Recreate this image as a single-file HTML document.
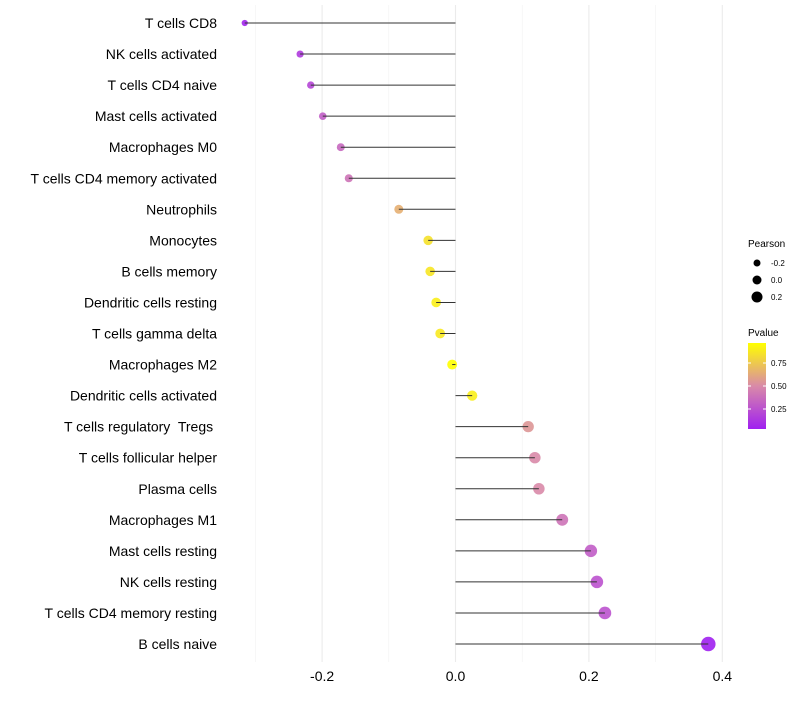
<!DOCTYPE html>
<html><head><meta charset="utf-8"><style>
body{margin:0;background:#fff;font-family:"Liberation Sans",sans-serif}
text{white-space:pre}
</style></head><body>
<svg id="chart" width="800" height="700" xmlns="http://www.w3.org/2000/svg">
<defs><linearGradient id="pg" x1="0" y1="1" x2="0" y2="0">
<stop offset="0" stop-color="#a020f0"/><stop offset="0.5" stop-color="#d98aa8"/><stop offset="1" stop-color="#ffff00"/>
</linearGradient></defs>
<g id="grid"></g><g id="marks"></g><g id="labels"></g>
<g font-size="10">
<text x="748" y="247" fill="#000">Pearson</text>
<circle cx="757" cy="263" r="3.5" fill="#000"/><text x="771" y="266" font-size="8">-0.2</text>
<circle cx="757" cy="280" r="4.5" fill="#000"/><text x="771" y="283" font-size="8">0.0</text>
<circle cx="757" cy="297" r="5.5" fill="#000"/><text x="771" y="300" font-size="8">0.2</text>
<text x="748" y="336" fill="#000">Pvalue</text>
<rect x="748" y="343" width="18" height="86" fill="url(#pg)"/>
<line x1="748" x2="751" y1="363" y2="363" stroke="#fff"/><line x1="763" x2="766" y1="363" y2="363" stroke="#fff"/>
<line x1="748" x2="751" y1="386" y2="386" stroke="#fff"/><line x1="763" x2="766" y1="386" y2="386" stroke="#fff"/>
<line x1="748" x2="751" y1="409" y2="409" stroke="#fff"/><line x1="763" x2="766" y1="409" y2="409" stroke="#fff"/>
<text x="771" y="366" font-size="8">0.75</text><text x="771" y="389" font-size="8">0.50</text><text x="771" y="412" font-size="8">0.25</text>
</g>
</svg>
<script>
const categories=["T cells CD8","NK cells activated","T cells CD4 naive","Mast cells activated","Macrophages M0","T cells CD4 memory activated","Neutrophils","Monocytes","B cells memory","Dendritic cells resting","T cells gamma delta","Macrophages M2","Dendritic cells activated","T cells regulatory  Tregs ","T cells follicular helper","Plasma cells","Macrophages M1","Mast cells resting","NK cells resting","T cells CD4 memory resting","B cells naive"];
const pearson=[-0.316,-0.233,-0.217,-0.199,-0.172,-0.160,-0.085,-0.041,-0.038,-0.029,-0.023,-0.005,0.025,0.109,0.119,0.125,0.160,0.203,0.212,0.224,0.379];
const pvalues=[0.05,0.15,0.2,0.3,0.35,0.4,0.65,0.85,0.87,0.9,0.88,0.97,0.9,0.55,0.5,0.5,0.4,0.3,0.25,0.25,0.03];
const xTicks=[-0.2,0,0.2,0.4];
const xTickLabels=["-0.2","0.0","0.2","0.4"];
const minorTicks=[-0.3,-0.1,0.1,0.3];
const NS="http://www.w3.org/2000/svg";
const x=v=>455.5+v*667;
const y=i=>23+i*31.05;
const r=v=>5+v*6;
function lerp(a,b,t){return a.map((c,k)=>Math.round(c+(b[k]-c)*t));}
function col(p){const t=Math.max(0,Math.min(1,(p-0.03)/0.94));const A=[160,32,240],M=[217,138,168],B=[255,255,0];
const c=t<0.5?lerp(A,M,t*2):lerp(M,B,(t-0.5)*2);return `rgb(${c})`;}
function mk(tag,at,parent){const e=document.createElementNS(NS,tag);for(const k in at)e.setAttribute(k,at[k]);parent.appendChild(e);return e;}
const G=document.getElementById('grid'),Mk=document.getElementById('marks'),L=document.getElementById('labels');
minorTicks.forEach(v=>{const l=mk('line',{x1:x(v),x2:x(v),y1:5,y2:662,stroke:'#f2f2f2','stroke-width':0.6},G);

});
xTicks.forEach((v,i)=>{const l=mk('line',{x1:x(v),x2:x(v),y1:5,y2:662,stroke:'#ebebeb','stroke-width':1.1},G);


const t=mk('text',{x:x(v),y:681,'text-anchor':'middle','font-size':14,fill:'#000'},L);t.textContent=xTickLabels[i];

});
categories.forEach((c,i)=>{
const t=mk('text',{x:217,y:y(i)+5,'text-anchor':'end','font-size':14,fill:'#000'},L);t.textContent=c;


const p=mk('circle',{cx:x(pearson[i]),cy:y(i),r:r(pearson[i]),fill:col(pvalues[i]),'fill-opacity':0.9},Mk);


const s=mk('line',{x1:x(0),x2:x(pearson[i]),y1:y(i),y2:y(i),stroke:'#333','stroke-width':1},Mk);


});
</script>
</body></html>
